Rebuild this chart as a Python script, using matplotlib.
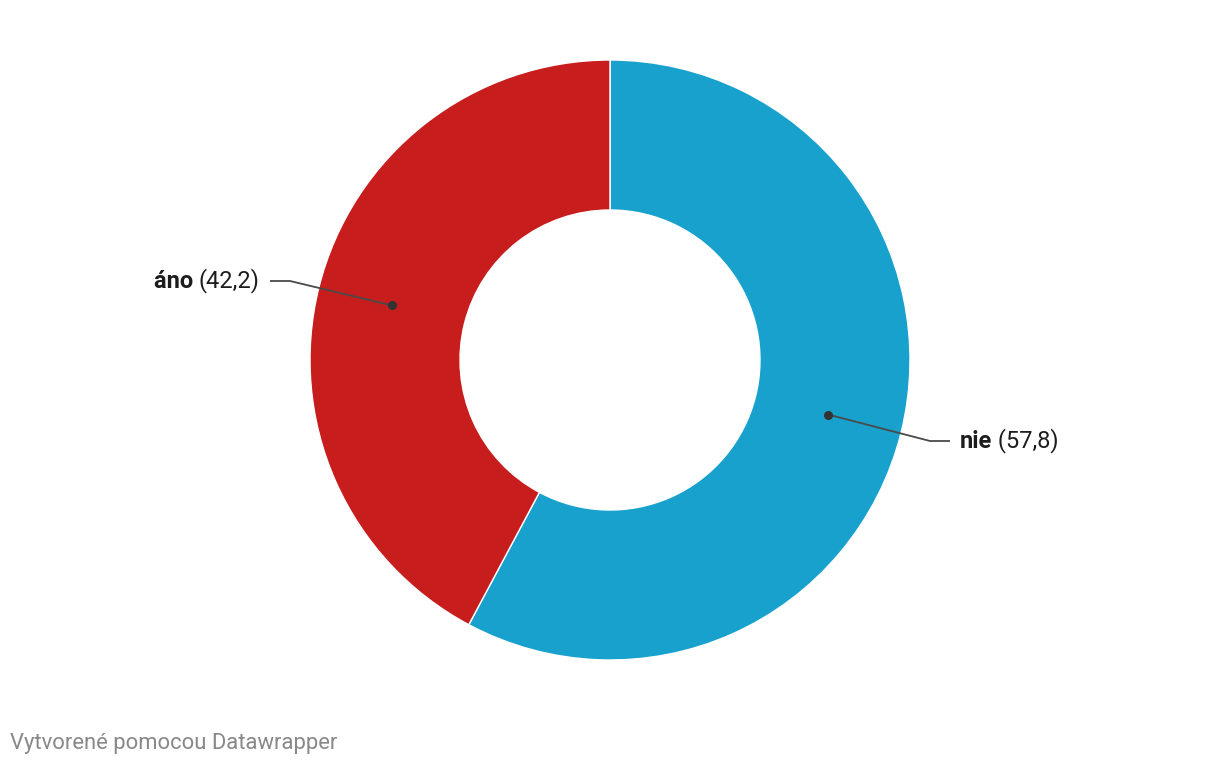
import numpy as np
import matplotlib.pyplot as plt

plt.rcParams['font.family'] = ['Roboto', 'DejaVu Sans']

labels = ['nie', 'áno']
values = [57.8, 42.2]
colors = ['#18a1cd', '#c71e1d']
value_text = ['(57,8)', '(42,2)']

W, H = 1220, 766
fig = plt.figure(figsize=(W / 100, H / 100), dpi=100)
ax = fig.add_axes([0, 0, 1, 1])
ax.set_xlim(0, W)
ax.set_ylim(0, H)
ax.set_aspect('equal')
ax.axis('off')

cx, cy = 610, H - 360
R, ring = 300, 150
ax.pie(values, colors=colors, startangle=90, counterclock=False,
       center=(cx, cy), radius=R,
       wedgeprops=dict(width=ring, edgecolor='white', linewidth=1))
ax.set_xlim(0, W)
ax.set_ylim(0, H)

renderer = fig.canvas.get_renderer()

# label layout: (knee x, end x, text y) in pixels
layout = {'nie': (930, 950, 441), 'áno': (290, 270, 281)}
fs = 17

start = 90.0
total = sum(values)
for lab, v, vt in zip(labels, values, value_text):
    span = v / total * 360
    mid = np.deg2rad(start - span / 2)
    start -= span
    rm = R - ring / 2
    px, py = cx + rm * np.cos(mid), cy + rm * np.sin(mid)
    kx, ex, ty = layout[lab]
    ty = H - ty
    ax.plot([px, kx, ex], [py, ty, ty], color='#4a4a4a', lw=1.3,
            solid_capstyle='butt', zorder=5)
    ax.plot(px, py, 'o', color='#333333', ms=5.5, zorder=6)
    if ex > kx:
        x0 = ex + 10
        t1 = ax.text(x0, ty, lab, fontsize=fs, fontweight='bold',
                     color='#1d1d1d', va='center', ha='left')
        w = t1.get_window_extent(renderer).width
        ax.text(x0 + w, ty, ' ' + vt, fontsize=fs, color='#1d1d1d',
                va='center', ha='left')
    else:
        x1 = ex - 10
        t2 = ax.text(x1, ty, vt, fontsize=fs, color='#1d1d1d',
                     va='center', ha='right')
        w = t2.get_window_extent(renderer).width
        ax.text(x1 - w, ty, lab + ' ', fontsize=fs, fontweight='bold',
                color='#1d1d1d', va='center', ha='right')

ax.text(10, H - 743, 'Vytvorené pomocou Datawrapper', fontsize=15.8,
        color='#888888', va='center', ha='left')

fig.savefig('out.png', dpi=100, facecolor='white')
